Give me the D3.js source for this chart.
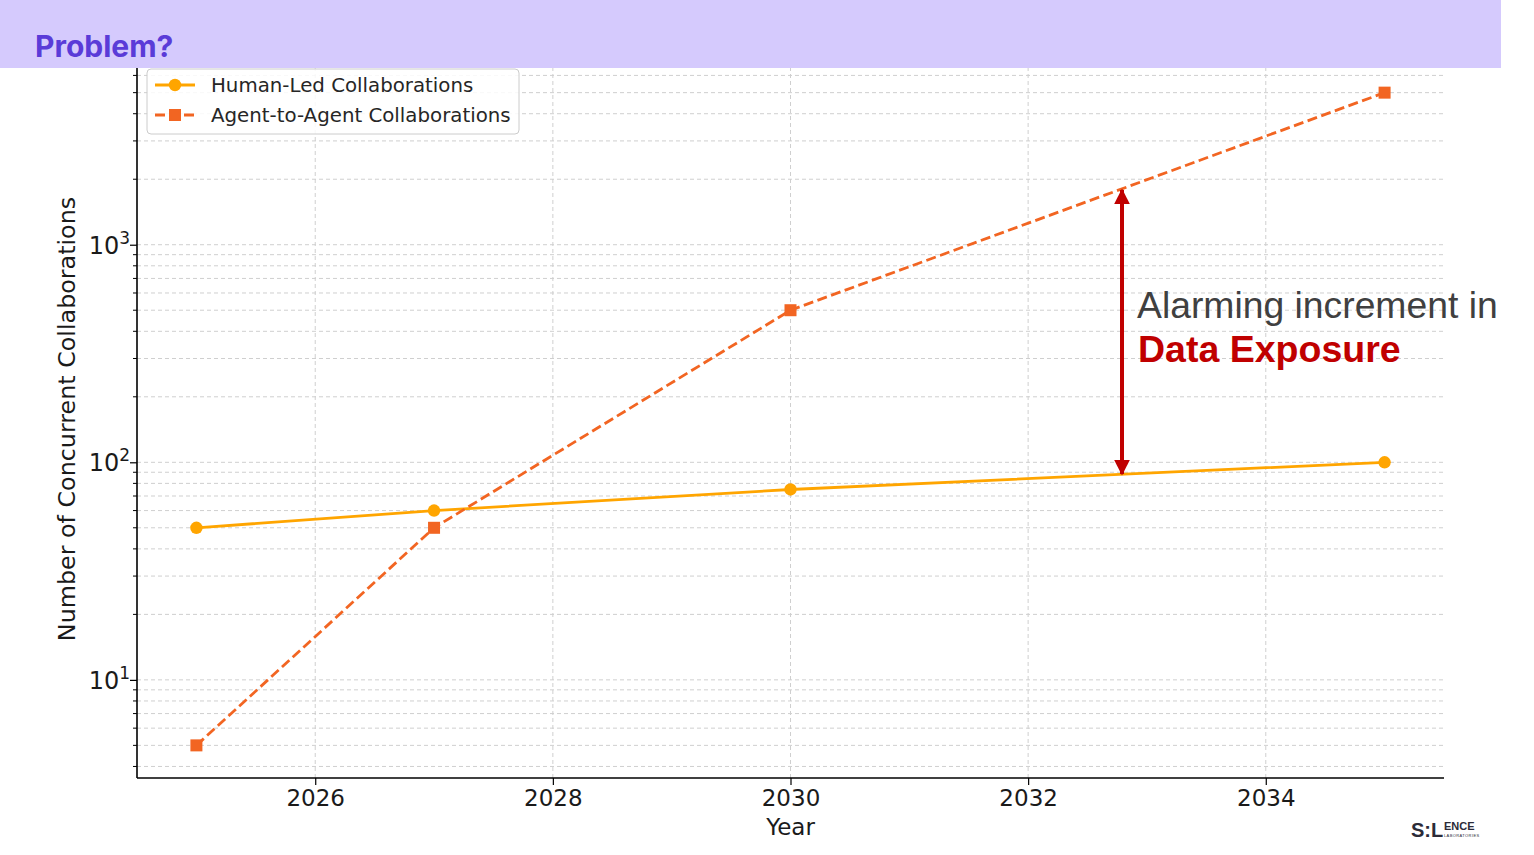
<!DOCTYPE html>
<html>
<head>
<meta charset="utf-8">
<script src="https://cdn.jsdelivr.net/npm/d3@7"></script>
<style>
  body { margin: 0; background: #fff; }
  svg text { font-family: "DejaVu Sans", sans-serif; }
</style>
</head>
<body>
<svg id="chart" width="1534" height="855"></svg>
<script>
// data
var years = [2025, 2027, 2030, 2035];
var humanLed = [50, 60, 75, 100];
var agentToAgent = [5, 50, 500, 5000];
var xTicks = [2026, 2028, 2030, 2032, 2034];
var yMajor = [10, 100, 1000];
var seriesNames = ["Human-Led Collaborations", "Agent-to-Agent Collaborations"];

function drawChart() {
    var svg = d3.select("#chart");

    var pLeft = 137, pRight = 1444, pTop = 60, pBottom = 778;

    // matplotlib-style 5% margins
    var x = d3.scaleLinear().domain([2024.5, 2035.5]).range([pLeft, pRight]);
    var y = d3.scaleLog().domain([Math.pow(10, 0.549), Math.pow(10, 3.849)]).range([pBottom, pTop]);

    // minor ticks for log axis
    var yMinor = [];
    [1, 10, 100, 1000].forEach(function(d) {
        for (var k = 2; k <= 9; k++) {
            var v = d * k;
            if (v >= y.domain()[0] && v <= y.domain()[1]) yMinor.push(v);
        }
    });

    var grid = svg.append("g");
    // horizontal grid (major + minor)
    grid.selectAll("line.h")
        .data(yMajor.concat(yMinor))
        .enter().append("line")
        .attr("x1", pLeft).attr("x2", pRight)
        .attr("y1", function(d) { return y(d); })
        .attr("y2", function(d) { return y(d); })
        .style("stroke", "#cfcfcf")
        .style("stroke-width", 1)
        .style("stroke-dasharray", "4,3");
    // vertical grid
    grid.selectAll("line.v")
        .data(xTicks)
        .enter().append("line")
        .attr("x1", function(d) { return x(d); })
        .attr("x2", function(d) { return x(d); })
        .attr("y1", pTop).attr("y2", pBottom)
        .style("stroke", "#cfcfcf")
        .style("stroke-width", 1)
        .style("stroke-dasharray", "4,3");

    // x axis
    var xAxis = svg.append("g")
        .attr("transform", "translate(0," + pBottom + ")")
        .call(d3.axisBottom(x).tickValues(xTicks).tickFormat(d3.format("d")).tickSize(7).tickPadding(5));
    xAxis.select(".domain").style("stroke", "#000").style("stroke-width", 1.6).attr("d", "M" + pLeft + ",0H" + pRight);
    xAxis.selectAll(".tick line").style("stroke", "#000").style("stroke-width", 1.2);
    xAxis.selectAll("text").style("font-size", "23px").style("fill", "#1a1a1a");

    // y axis
    var yAxis = svg.append("g")
        .attr("transform", "translate(" + pLeft + ",0)")
        .call(d3.axisLeft(y).tickValues(yMajor).tickFormat("").tickSize(7));
    yAxis.select(".domain").style("stroke", "#000").style("stroke-width", 1.6).attr("d", "M0," + pTop + "V" + pBottom);
    yAxis.selectAll(".tick line").style("stroke", "#000").style("stroke-width", 1.2);

    svg.append("g")
        .attr("transform", "translate(" + pLeft + ",0)")
        .selectAll("line")
        .data(yMinor)
        .enter().append("line")
        .attr("x1", -4).attr("x2", 0)
        .attr("y1", function(d) { return y(d); })
        .attr("y2", function(d) { return y(d); })
        .style("stroke", "#000").style("stroke-width", 1);

    // 10^n labels
    var yLab = svg.append("g").selectAll("text")
        .data(yMajor)
        .enter().append("text")
        .attr("x", pLeft - 7)
        .attr("y", function(d) { return y(d) + 9; })
        .attr("text-anchor", "end")
        .style("font-size", "24px")
        .style("fill", "#1a1a1a");
    yLab.append("tspan").text("10");
    yLab.append("tspan")
        .attr("dy", -10)
        .style("font-size", "17px")
        .text(function(d) { return Math.round(Math.log10(d)); });

    // axis titles
    svg.append("text")
        .attr("x", (pLeft + pRight) / 2)
        .attr("y", 835)
        .attr("text-anchor", "middle")
        .style("font-size", "23px")
        .style("fill", "#1a1a1a")
        .text("Year");
    svg.append("text")
        .attr("transform", "translate(75," + (pTop + pBottom) / 2 + ") rotate(-90)")
        .attr("text-anchor", "middle")
        .style("font-size", "23.8px")
        .style("fill", "#1a1a1a")
        .text("Number of Concurrent Collaborations");

    // lines
    var line = d3.line()
        .x(function(d) { return x(d[0]); })
        .y(function(d) { return y(d[1]); });

    var humanColor = "#ffa500", agentColor = "#f26522";

    svg.append("path")
        .datum(d3.zip(years, humanLed))
        .attr("d", line)
        .style("fill", "none")
        .style("stroke", humanColor)
        .style("stroke-width", 2.8);

    svg.append("path")
        .datum(d3.zip(years, agentToAgent))
        .attr("d", line)
        .style("fill", "none")
        .style("stroke", agentColor)
        .style("stroke-width", 2.8)
        .style("stroke-dasharray", "10,4.5");

    svg.append("g").selectAll("circle")
        .data(d3.zip(years, humanLed))
        .enter().append("circle")
        .attr("cx", function(d) { return x(d[0]); })
        .attr("cy", function(d) { return y(d[1]); })
        .attr("r", 6.2)
        .style("fill", humanColor);

    svg.append("g").selectAll("rect")
        .data(d3.zip(years, agentToAgent))
        .enter().append("rect")
        .attr("x", function(d) { return x(d[0]) - 6; })
        .attr("y", function(d) { return y(d[1]) - 6; })
        .attr("width", 12).attr("height", 12)
        .style("fill", agentColor);

    // header band (sits over the top of the plot)
    svg.append("rect")
        .attr("x", 0).attr("y", 0)
        .attr("width", 1501).attr("height", 68)
        .style("fill", "#d5cafd");
    svg.append("text")
        .attr("x", 35).attr("y", 57)
        .style("font-family", "Inter, 'Liberation Sans', sans-serif")
        .style("font-weight", "bold")
        .style("font-size", "30px")
        .style("fill", "#5a3bd8")
        .text("Problem?");

    // legend
    var legend = svg.append("g").attr("transform", "translate(147,69)");
    legend.append("rect")
        .attr("width", 372).attr("height", 65)
        .attr("rx", 4)
        .style("fill", "#fff").style("fill-opacity", 0.85)
        .style("stroke", "#cccccc").style("stroke-width", 1);
    var items = legend.selectAll("g.item")
        .data(seriesNames)
        .enter().append("g")
        .attr("transform", function(d, i) { return "translate(0," + (16 + i * 30) + ")"; });
    items.append("line")
        .attr("x1", 8).attr("x2", 48)
        .style("stroke", function(d, i) { return i ? agentColor : humanColor; })
        .style("stroke-width", 2.8)
        .style("stroke-dasharray", function(d, i) { return i ? "10,4.5" : null; });
    items.each(function(d, i) {
        var g = d3.select(this);
        if (i == 0) {
            g.append("circle").attr("cx", 28).attr("r", 6.2).style("fill", humanColor);
        } else {
            g.append("rect").attr("x", 22).attr("y", -6).attr("width", 12).attr("height", 12).style("fill", agentColor);
        }
    });
    items.append("text")
        .attr("x", 64).attr("y", 7)
        .style("font-size", "19.8px")
        .style("fill", "#262626")
        .text(function(d) { return d; });

    // annotation arrow
    var darkRed = "#c00000";
    svg.append("defs").append("marker")
        .attr("id", "arrowEnd")
        .attr("viewBox", "0 0 10 10")
        .attr("refX", 9).attr("refY", 5)
        .attr("markerWidth", 4).attr("markerHeight", 4)
        .attr("markerUnits", "strokeWidth")
        .attr("orient", "auto-start-reverse")
        .append("path").attr("d", "M0,0L10,5L0,10z")
        .style("fill", darkRed);
    svg.append("line")
        .attr("x1", 1122).attr("x2", 1122)
        .attr("y1", 190).attr("y2", 474)
        .style("stroke", darkRed)
        .style("stroke-width", 4)
        .attr("marker-start", "url(#arrowEnd)")
        .attr("marker-end", "url(#arrowEnd)");

    svg.append("text")
        .attr("x", 1137).attr("y", 318)
        .style("font-family", "'Liberation Sans', Arial, sans-serif")
        .style("font-size", "37.3px")
        .style("fill", "#404040")
        .text("Alarming increment in");
    svg.append("text")
        .attr("x", 1138).attr("y", 362)
        .style("font-family", "'Liberation Sans', Arial, sans-serif")
        .style("font-weight", "bold")
        .style("font-size", "37.5px")
        .style("fill", darkRed)
        .text("Data Exposure");

    // logo
    var logo = svg.append("g").attr("transform", "translate(1411,837)")
        .style("fill", "#2b2b38");
    logo.append("text")
        .style("font-family", "'Liberation Sans', Arial, sans-serif")
        .style("font-weight", "bold")
        .style("font-size", "20px")
        .text("S:L");
    logo.append("text")
        .attr("x", 33).attr("y", -7)
        .style("font-family", "'Liberation Sans', Arial, sans-serif")
        .style("font-weight", "bold")
        .style("font-size", "11px")
        .text("ENCE");
    logo.append("text")
        .attr("x", 33).attr("y", 0)
        .style("font-family", "'Liberation Sans', Arial, sans-serif")
        .style("font-size", "4px")
        .style("letter-spacing", "0.4px")
        .text("LABORATORIES");
}

drawChart();
</script>
</body>
</html>
